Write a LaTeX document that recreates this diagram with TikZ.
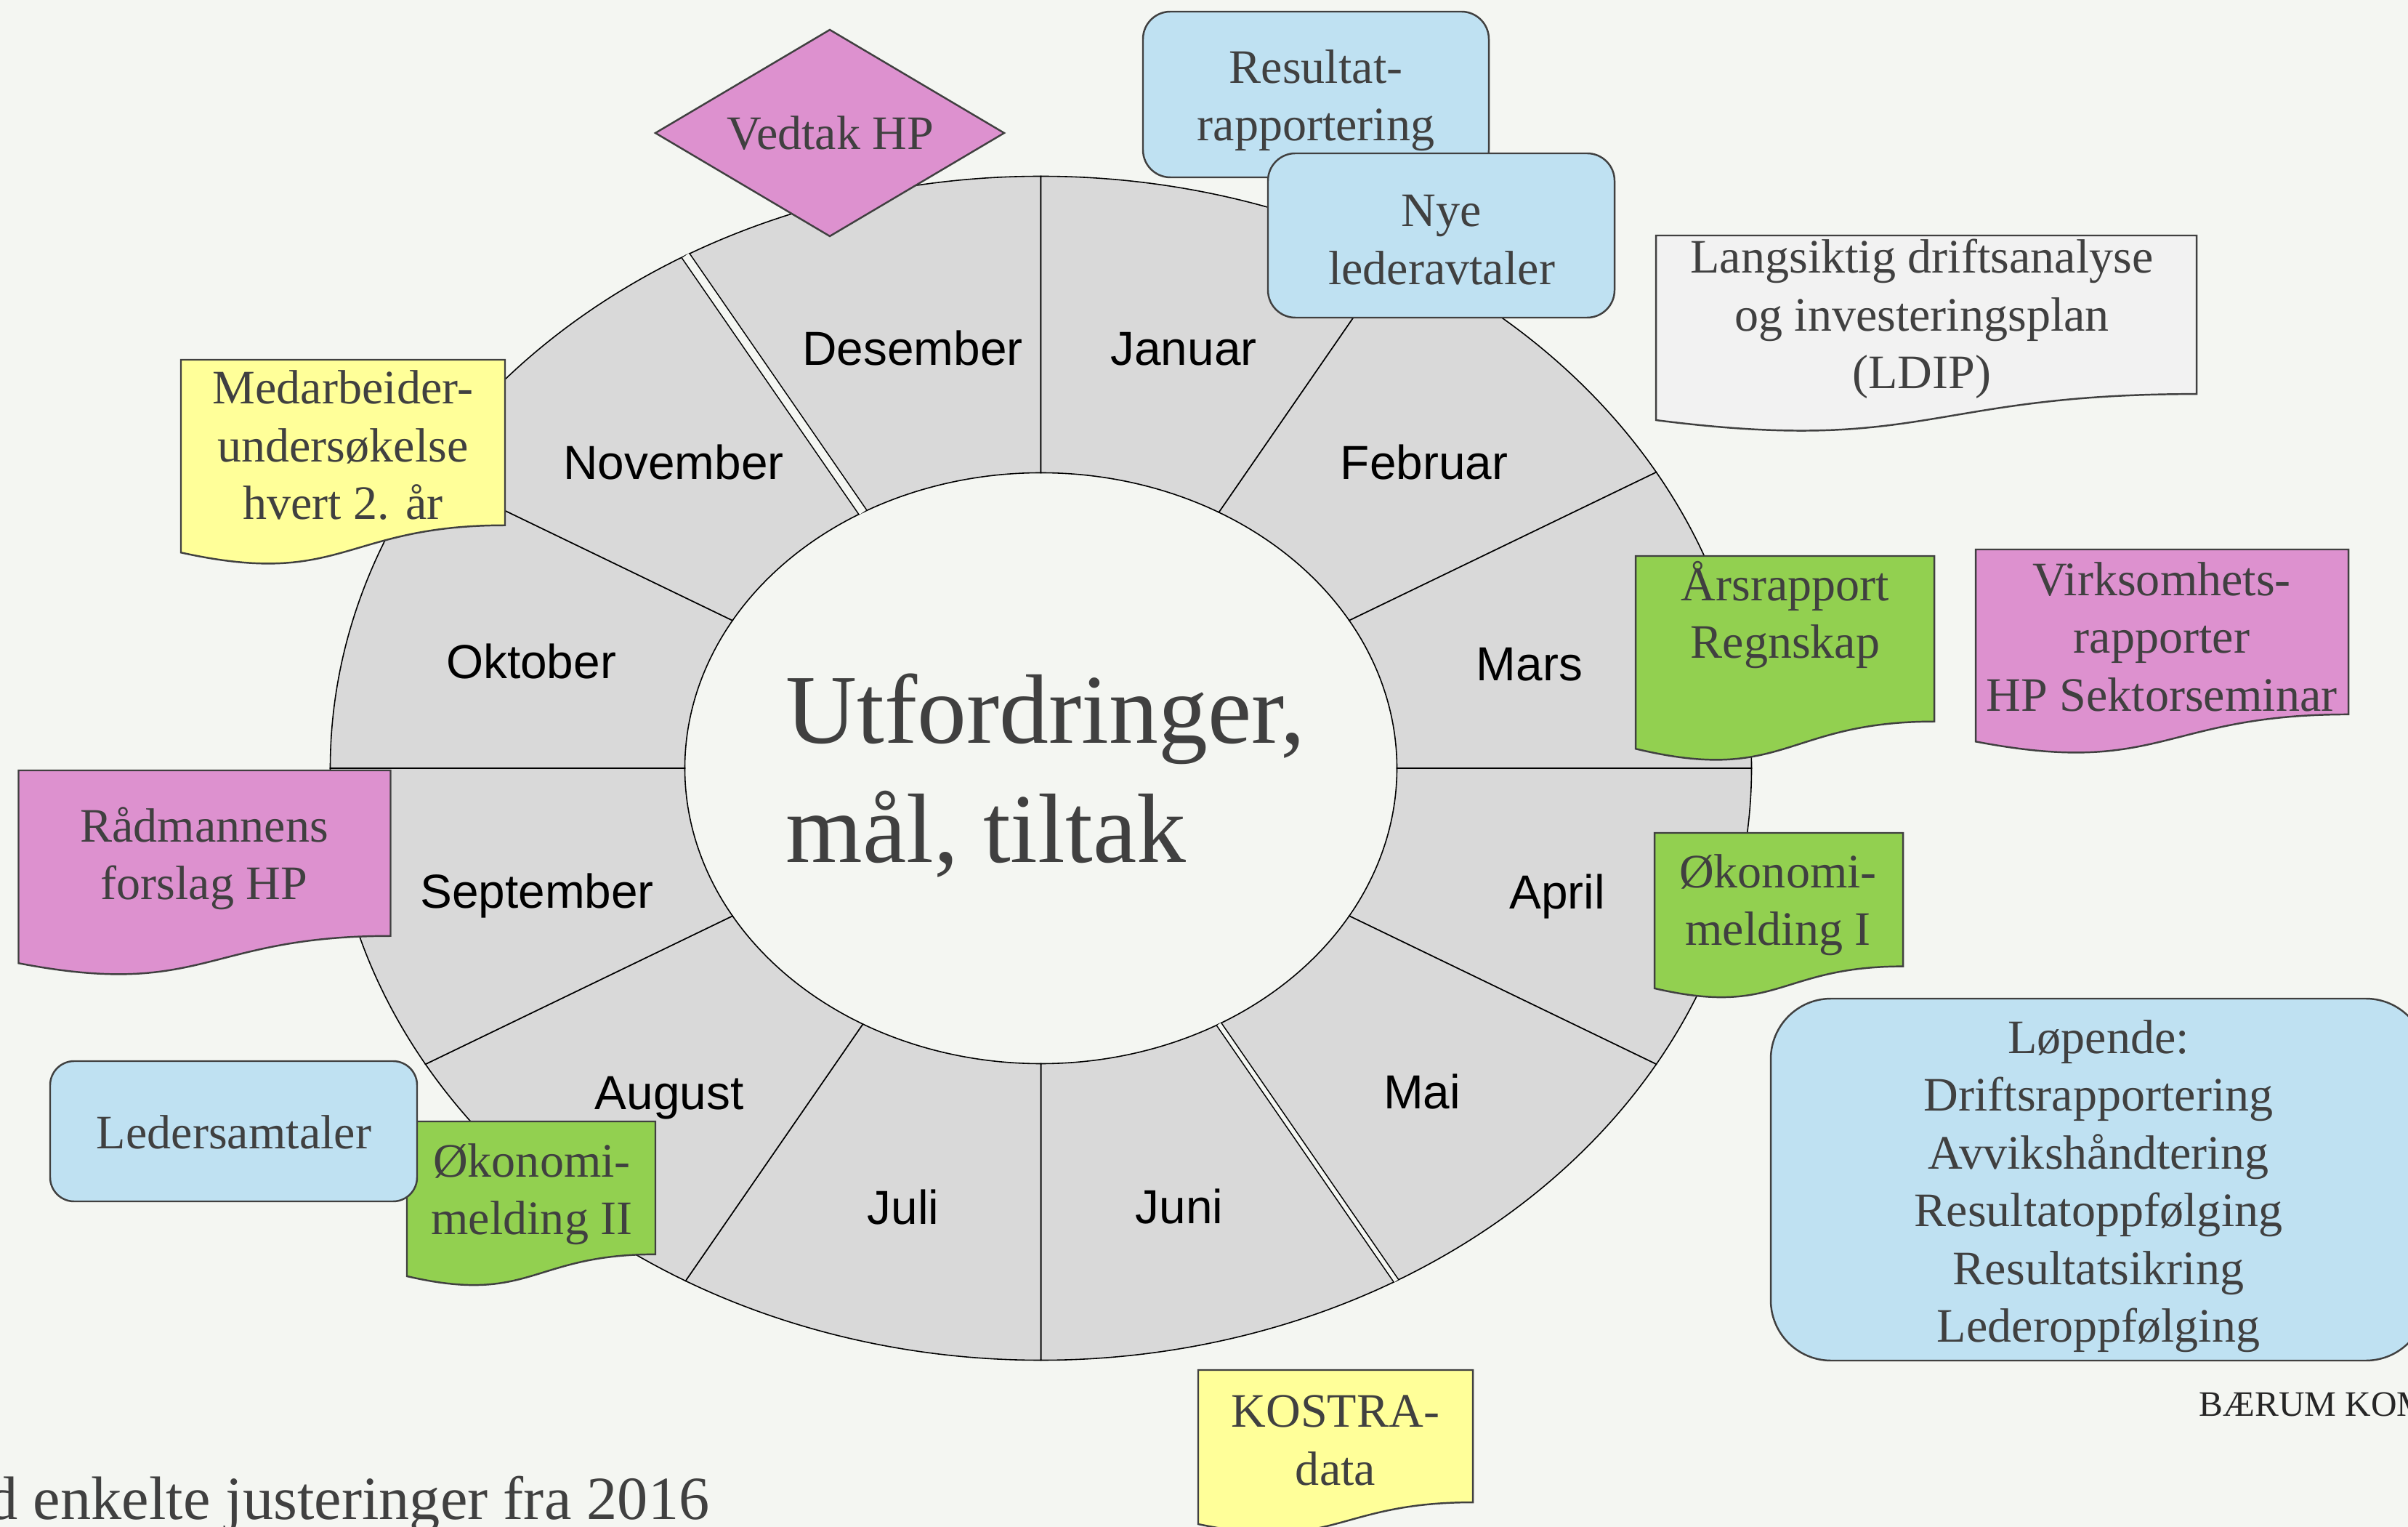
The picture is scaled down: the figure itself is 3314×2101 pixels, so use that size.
\documentclass[tikz,border=0pt]{standalone}
\usepackage{fontspec}
\setmainfont{Liberation Serif}
\setsansfont{Liberation Sans}
\definecolor{bgc}{HTML}{F4F6F2}
\definecolor{segc}{HTML}{D9D9D9}
\definecolor{bluec}{HTML}{BFE1F2}
\definecolor{pinkc}{HTML}{DD91CF}
\definecolor{greenc}{HTML}{92D050}
\definecolor{yellowc}{HTML}{FFFF99}
\definecolor{grayc}{HTML}{F2F2F2}
\definecolor{edgec}{HTML}{404040}
\definecolor{txtc}{HTML}{404040}
\newcommand\docshape[5]{%
  \path[box, fill=#5] (#1,#2) -- ({#1+#3},#2) -- ({#1+#3},{#2+0.802*#4})
    .. controls ({#1+0.5*#3},{#2+0.802*#4}) and ({#1+0.5*#3},{#2+1.1075*#4}) .. (#1,{#2+0.934*#4}) -- cycle;}
\tikzset{
  seg/.style={fill=segc, draw=black, line width=0.45pt},
  box/.style={draw=edgec, line width=0.7pt},
  boxtext/.style={text=txtc, font=\fontsize{18.8}{22.6}\selectfont, align=center, inner sep=0pt},
  month/.style={font=\sffamily\fontsize{18.7}{22}\selectfont, text=black, inner sep=0pt, anchor=base},
  bigtext/.style={text=txtc, font=\fontsize{38.6}{46.6}\selectfont, inner sep=0pt, anchor=base west},
}
\def\cx{1432.5}\def\cy{1057}
\def\rxo{978}\def\ryo{814.5}\def\rxi{490}\def\ryi{406.5}
\begin{document}
\begin{tikzpicture}[x=0.01cm,y=-0.01cm]
\useasboundingbox (0,0) rectangle (3314,2101);
\fill[bgc] (0,0) rectangle (3314,2101);
% wheel
\foreach \k in {0,...,11}{
  \pgfmathsetmacro\aa{30*\k}
  \pgfmathsetmacro\ab{30*\k+30}
  \path[seg] ([shift={(\aa:{\rxo} and {\ryo})}]\cx,\cy) arc[start angle=\aa, end angle=\ab, x radius=\rxo, y radius=\ryo]
    -- ([shift={(\ab:{\rxi} and {\ryi})}]\cx,\cy) arc[start angle=\ab, end angle=\aa, x radius=\rxi, y radius=\ryi] -- cycle;
}
\draw[line width=0.45pt, double=bgc, double distance=3pt] ([shift={(-120:{\rxi} and {\ryi})}]\cx,\cy) -- ([shift={(-120:{\rxo} and {\ryo})}]\cx,\cy);
\draw[line width=0.45pt, double=bgc, double distance=1.6pt] ([shift={(60:{\rxi} and {\ryi})}]\cx,\cy) -- ([shift={(60:{\rxo} and {\ryo})}]\cx,\cy);
\draw[line width=0.8pt] ([shift={(0:{\rxi} and {\ryi})}]\cx,\cy) -- ([shift={(0:{\rxo} and {\ryo})}]\cx,\cy);
\draw[line width=0.7pt] ([shift={(180:{\rxi} and {\ryi})}]\cx,\cy) -- ([shift={(180:{\rxo} and {\ryo})}]\cx,\cy);
% months
\node[month] (des) at (1256,503) {Desember};
\node[month] (jan) at (1629,503) {Januar};
\node[month] (feb) at (1960,660) {Februar};
\node[month] (mar) at (2105,937) {Mars};
\node[month] (apr) at (2143,1251) {April};
\node[month] (mai) at (1957,1525) {Mai};
\node[month] (jun) at (1623,1683) {Juni};
\node[month] (jul) at (1243,1684) {Juli};
\node[month] (aug) at (921,1526) {August};
\node[month] (sep) at (739,1250) {September};
\node[month] (okt) at (731,934) {Oktober};
\node[month] (nov) at (927,660) {November};
% centre
\node[bigtext] (utf1) at (1081,1023) {Utfordringer,};
\node[bigtext] (utf2) at (1081,1187) {mål, tiltak};
% boxes
\path[box, fill=bluec, rounded corners=0.377cm] (1573,16) rectangle (2049,244);
\node[boxtext] (resultat) at (1811,138) {Resultat-\\rapportering};
\path[box, fill=bluec, rounded corners=0.377cm] (1745,211) rectangle (2222,437);
\node[boxtext] (nye) at (1984,330) {Nye\\lederavtaler};
\path[box, fill=pinkc] (1142,41) -- (1382,183) -- (1142,325) -- (902,183) -- cycle;
\node[boxtext, anchor=base] (vedtak) at (1143,206) {Vedtak HP};
\docshape{2279}{324}{744}{272}{grayc}
\node[boxtext] (ldip) at (2645,439) {Langsiktig driftsanalyse\\og investeringsplan\\(LDIP)};
\docshape{249}{495}{446}{284}{yellowc}
\node[boxtext] (medarb) at (472,613) {Medarbeider-\\undersøkelse\\hvert 2. år};
\docshape{2251}{765}{411}{284}{greenc}
\node[boxtext] (arsrapp) at (2457,846) {Årsrapport\\Regnskap};
\docshape{2719}{756}{513}{283}{pinkc}
\node[boxtext] (virks) at (2975,876) {Virksomhets-\\rapporter\\HP Sektorseminar};
\docshape{2277}{1146}{342}{229}{greenc}
\node[boxtext] (okon1) at (2447,1245) {Økonomi-\\melding I};
\path[box, fill=bluec, rounded corners=0.83cm] (2437,1374) rectangle (3339,1872);
\node[boxtext] (lopende) at (2888,1632) {Løpende:\\Driftsrapportering\\Avvikshåndtering\\Resultatoppfølging\\Resultatsikring\\Lederoppfølging};
\docshape{1649}{1885}{378}{227}{yellowc}
\node[boxtext] (kostra) at (1838,1982) {KOSTRA-\\data};
\docshape{25.5}{1060}{512}{284}{pinkc}
\node[boxtext] (radm) at (281,1181) {Rådmannens\\forslag HP};
\docshape{560}{1543}{342}{228}{greenc}
\node[boxtext] (okon2) at (732,1643) {Økonomi-\\melding II};
\path[box, fill=bluec, rounded corners=0.33cm] (69,1460) rectangle (574,1653);
\node[boxtext, anchor=base] (leder) at (322,1580) {Ledersamtaler};
% footer texts
\node[text=txtc, font=\fontsize{24}{28}\selectfont, inner sep=0pt, anchor=base east] (just) at (977,2090) {d enkelte justeringer fra 2016};
\node[text=black!85, font=\fontsize{14}{16}\selectfont, inner sep=0pt, anchor=base west] (baerum) at (3026,1948) {BÆRUM KOM};
\end{tikzpicture}
\end{document}
